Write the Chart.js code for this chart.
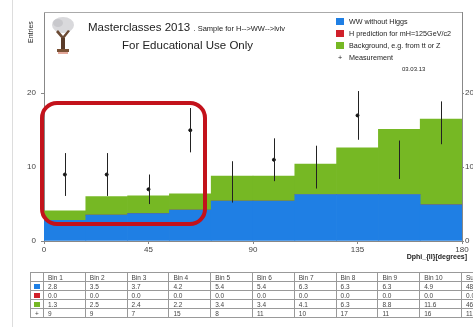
<!DOCTYPE html>
<html>
<head>
<meta charset="utf-8">
<script src="https://cdn.jsdelivr.net/npm/chart.js@4.4.0/dist/chart.umd.min.js"></script>
<style>
    body { margin: 0; width: 473px; height: 327px; overflow: hidden; background: #fff; position: relative;
           font-family: "Liberation Sans", Arial, sans-serif; color: #222; }
    #plot { position: absolute; left: 0; top: 0; }
    .abs { position: absolute; white-space: nowrap; }
    #edge { position: absolute; left: 12px; top: 0; width: 1px; height: 327px; background: #ddd; }
    #title1 { left: 88px; top: 21px; font-size: 11.5px; }
    #title1 small { font-size: 7.5px; }
    #title2 { left: 122px; top: 39px; font-size: 11.5px; }
    #ytitle { left: 27px; top: 14px; font-size: 7px; transform-origin: left top; transform: rotate(-90deg) translateX(-29px); }
    #xtitle { right: 6px; top: 253px; font-size: 7px; font-weight: bold; }
    .leg { left: 336px; font-size: 7.2px; line-height: 9px; }
    .leg i { display: inline-block; width: 8px; height: 7px; margin-right: 5px; vertical-align: -1px; }
    #date { left: 402px; top: 66px; font-size: 6px; }
    #mark { position: absolute; left: 40px; top: 101px; width: 167px; height: 125px; box-sizing: border-box;
            border: 4px solid #c3121b; border-radius: 17px; }
    #tblwrap { position: absolute; left: 30px; top: 272px; width: 600px; }
    table { border-collapse: collapse; font-size: 6.5px; table-layout: fixed; width: 462px; color: #444; }
    td, th { border: 1px solid #999; height: 8px; padding: 0 0 0 4px; text-align: left; font-weight: normal; overflow: hidden; white-space: nowrap; }
    th.lab, td.lab { padding: 0 1px; text-align: center; }
    td.lab i { display: inline-block; width: 6px; height: 5px; }
</style>
</head>
<body>
<div id="edge"></div>
<canvas id="plot" width="473" height="258"></canvas>

<svg class="abs" style="left:49px;top:16px" width="28" height="40" viewBox="0 0 28 40">
    <ellipse cx="14" cy="9" rx="11" ry="8" fill="#d9d9dc"/>
    <ellipse cx="9" cy="7" rx="5" ry="4" fill="#c8c8cc"/>
    <path d="M7 16 L14 24 L21 15 L19 14 L14 20 L9 14 Z" fill="#6b4a34"/>
    <rect x="12" y="22" width="4" height="12" fill="#5a3b28"/>
    <rect x="8" y="33" width="12" height="3" fill="#7a5236"/>
    <rect x="9" y="36" width="10" height="2" fill="#e3a89a"/>
</svg>
<div class="abs" id="title1">Masterclasses 2013 <small>. Sample for H--&gt;WW--&gt;lvlv</small></div>
<div class="abs" id="title2">For Educational Use Only</div>
<div class="abs" id="ytitle">Entries</div>
<div class="abs" id="xtitle">Dphi_{ll}[degrees]</div>

<div class="abs leg" style="top:17px"><i style="background:#1f7fe4"></i>WW without Higgs</div>
<div class="abs leg" style="top:29px"><i style="background:#d0202a"></i>H prediction for mH=125GeV/c2</div>
<div class="abs leg" style="top:41px"><i style="background:#76b824"></i>Background, e.g. from tt or Z</div>
<div class="abs leg" style="top:53px"><span style="display:inline-block;width:8px;margin-right:5px;text-align:center">+</span>Measurement</div>
<div class="abs" id="date">03.03.13</div>

<div id="tblwrap"><table id="tbl"></table></div>
<div id="mark"></div>

<script>
// Dphi_ll bins, 18 degrees wide
const binLabels = ['Bin 1', 'Bin 2', 'Bin 3', 'Bin 4', 'Bin 5', 'Bin 6', 'Bin 7', 'Bin 8', 'Bin 9', 'Bin 10'];
const binCenters = [9, 27, 45, 63, 81, 99, 117, 135, 153, 171];

// stacked expectations
const wwNoHiggs = [2.8, 3.5, 3.7, 4.2, 5.4, 5.4, 6.3, 6.3, 6.3, 4.9];
const higgs = [0, 0, 0, 0, 0, 0, 0, 0, 0, 0];
const background = [1.3, 2.5, 2.4, 2.2, 3.4, 3.4, 4.1, 6.3, 8.8, 11.6];

// measurement with errors
const measured = [9, 9, 7, 15, 8, 11, 10, 17, 11, 16];
const measErr = [2.9, 2.9, 2.0, 3.0, 2.8, 2.9, 2.9, 3.3, 2.6, 2.9];

const xTicks = [0, 45, 90, 135, 180];
const yMax = 31;

const fontFamily = '"Liberation Sans", Arial, sans-serif';

function points(values) {
    return values.map((v, i) => ({ x: binCenters[i], y: v }));
}

// Error bars + top frame line
const errorBars = {
    id: 'errorBars',
    afterDatasetsDraw(chart) {
        const { ctx, chartArea, scales: { x, y } } = chart;
        ctx.save();
        ctx.strokeStyle = '#222';
        ctx.lineWidth = 1;
        measured.forEach((v, i) => {
            const px = Math.round(x.getPixelForValue(binCenters[i])) + 0.5;
            ctx.beginPath();
            ctx.moveTo(px, y.getPixelForValue(v + measErr[i]));
            ctx.lineTo(px, y.getPixelForValue(v - measErr[i]));
            ctx.stroke();
        });
        ctx.strokeStyle = '#aaa';
        ctx.beginPath();
        ctx.moveTo(chartArea.left, chartArea.top + 0.5);
        ctx.lineTo(chartArea.right, chartArea.top + 0.5);
        ctx.stroke();
        ctx.restore();
    }
};

const tickFont = { size: 8, family: fontFamily };

const plotChart = new Chart(document.getElementById('plot'), {
    type: 'bar',
    data: {
        datasets: [
            { label: 'WW without Higgs', data: points(wwNoHiggs), backgroundColor: '#1f7fe4', stack: 'mc' },
            { label: 'H prediction for mH=125GeV/c2', data: points(higgs), backgroundColor: '#d0202a', stack: 'mc' },
            { label: 'Background, e.g. from tt or Z', data: points(background), backgroundColor: '#76b824', stack: 'mc' },
            {
                type: 'line',
                label: 'Measurement',
                data: points(measured),
                showLine: false,
                stack: 'data',
                pointRadius: 1.5,
                pointBackgroundColor: '#111',
                pointBorderColor: '#111'
            }
        ]
    },
    options: {
        responsive: false,
        animation: false,
        layout: { padding: { top: 12 } },
        datasets: { bar: { categoryPercentage: 1, barPercentage: 1, borderWidth: 0 } },
        plugins: { legend: { display: false }, tooltip: { enabled: false } },
        scales: {
            x: {
                type: 'linear',
                min: 0,
                max: 180,
                stacked: true,
                offset: false,
                afterBuildTicks: s => { s.ticks = xTicks.map(v => ({ value: v })); },
                ticks: { font: tickFont, color: '#444', padding: 1, maxRotation: 0, autoSkip: false },
                grid: { drawOnChartArea: false, offset: false, tickLength: 3, color: '#888' },
                border: { color: '#888' },
                afterFit: s => { s.height = 17; }
            },
            y: {
                min: 0,
                max: yMax,
                stacked: true,
                afterBuildTicks: s => { s.ticks = s.ticks.filter(t => t.value % 10 === 0 && t.value <= 20); },
                ticks: { stepSize: 10, font: tickFont, color: '#444', padding: 5 },
                grid: { drawOnChartArea: false, tickLength: 3, color: '#888' },
                border: { color: '#888' },
                afterFit: s => { s.width = 44; }
            },
            y2: {
                position: 'right',
                min: 0,
                max: yMax,
                afterBuildTicks: s => { s.ticks = s.ticks.filter(t => t.value % 10 === 0 && t.value <= 20); },
                ticks: { stepSize: 10, font: tickFont, color: '#444', padding: 1 },
                grid: { drawOnChartArea: false, tickLength: 2, color: '#888' },
                border: { color: '#888' },
                afterFit: s => { s.width = 11; }
            }
        }
    },
    plugins: [errorBars]
});

// Table under the plot, columns lined up with the bins
function buildTable() {
    const tbl = document.getElementById('tbl');
    const sum = arr => arr.reduce((a, b) => a + b, 0);
    const rows = [
        { mark: '<i style="background:#1f7fe4"></i>', vals: wwNoHiggs, fmt: v => v.toFixed(1) },
        { mark: '<i style="background:#d0202a"></i>', vals: higgs, fmt: v => v.toFixed(1) },
        { mark: '<i style="background:#76b824"></i>', vals: background, fmt: v => v.toFixed(1) },
        { mark: '+', vals: measured, fmt: v => String(v) }
    ];
    let html = '<colgroup><col style="width:13px">' +
        binLabels.map(() => '<col style="width:41.8px">').join('') +
        '<col style="width:31px"></colgroup>';
    html += '<tr><th class="lab"></th>' +
        binLabels.map(b => `<th>${b}</th>`).join('') +
        '<th>Sum</th></tr>';
    rows.forEach(r => {
        html += `<tr><td class="lab">${r.mark}</td>` +
            r.vals.map(v => `<td>${r.fmt(v)}</td>`).join('') +
            `<td>${r.fmt(sum(r.vals))}</td></tr>`;
    });
    tbl.innerHTML = html;
}
buildTable();
</script>
</body>
</html>
